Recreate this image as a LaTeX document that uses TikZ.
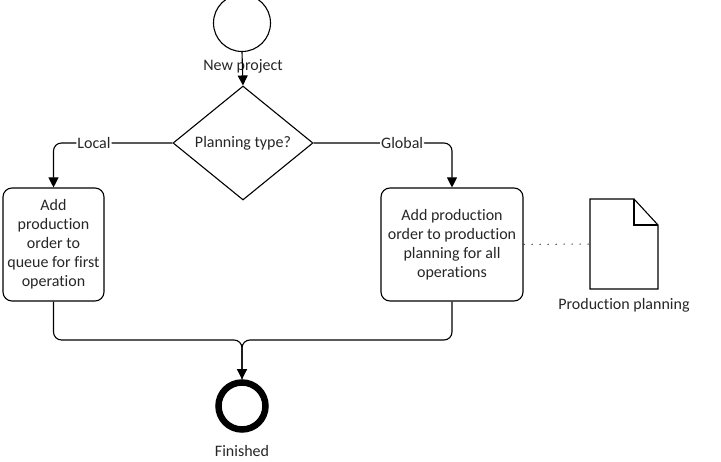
\documentclass[tikz,border=0pt]{standalone}
\usepackage{fontspec}
\setmainfont[Ligatures={NoCommon}]{Carlito}
\usetikzlibrary{shapes.geometric,arrows.meta}
\begin{document}
\begin{tikzpicture}[x=1pt,y=-1pt,
  every node/.style={font=\fontsize{16}{19}\selectfont, text=black!85},
  ln/.style={draw=black, line width=1.1pt},
  arr/.style={ln, -{Triangle[length=10pt,width=10pt]}},
  proc/.style={ln, rectangle, rounded corners=9pt, align=center, inner sep=0pt},
  lbl/.style={fill=white, inner sep=1pt}]
\useasboundingbox (0,0) rectangle (721,462);
\node[ln, circle, minimum size=57pt, inner sep=0pt] (s) at (242,23) {};
\node (np) at (243,66) {New project};
\node[ln, diamond, minimum width=140pt, minimum height=114pt, inner sep=0pt] (d) at (243,143) {Planning type?};
\node[proc, minimum width=101pt, minimum height=113pt] (lb) at (53.5,244.5) {Add\\production\\order to\\queue for first\\operation};
\node[proc, minimum width=142pt, minimum height=113pt] (rb) at (452,244.5) {Add production\\order to production\\planning for all\\operations};
\node[ln, circle, line width=6.5pt, minimum size=47pt, inner sep=0pt] (e) at (242,406) {};
\node (fin) at (242,451) {Finished};
\coordinate (m) at (242,340);
% document
\coordinate (doc) at (590,244);
\draw[ln, line join=miter] (590,199) -- (634,199) -- (658,225) -- (658,289) -- (590,289) -- cycle;
\draw[ln] (634,199) -- (634,225) -- (658,225);
\node (pp) at (624,305) {Production planning};
% connectors
\draw[arr] (s.south) -- (d.north);
\draw[arr, rounded corners=8pt] (d.west) -| node[lbl, pos=0.33] {Local} (lb.north);
\draw[arr, rounded corners=8pt] (d.east) -| node[lbl, pos=0.32] {Global} (rb.north);
\draw[ln, rounded corners=8pt] (lb.south) |- (m) -- (e.north);
\draw[arr, rounded corners=8pt] (rb.south) |- (m) -- (e.north);
\draw[ln, line width=1pt, dash pattern=on 1pt off 7pt] (rb.east) -- (doc);
\end{tikzpicture}
\end{document}
